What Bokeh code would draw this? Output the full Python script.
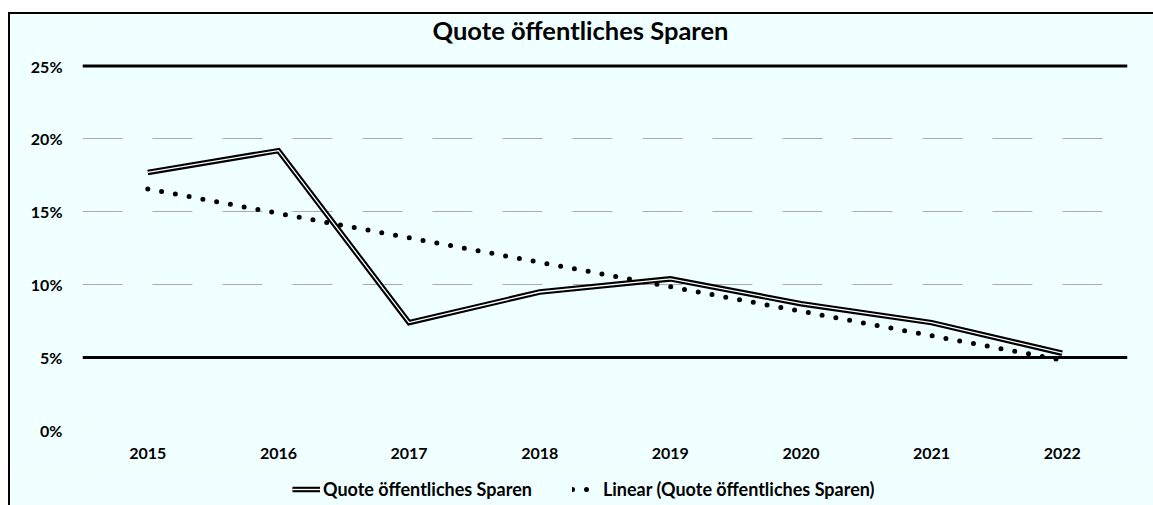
import numpy as np
from bokeh.plotting import figure
from bokeh.layouts import column
from bokeh.models import (Span, Legend, LegendItem, FixedTicker, NumeralTickFormatter,
                          Label, Range1d)
from bokeh.embed import file_html
from bokeh.resources import INLINE

# ---- data ----
years = ["2015", "2016", "2017", "2018", "2019", "2020", "2021", "2022"]
quote = [17.7, 19.2, 7.4, 9.5, 10.4, 8.7, 7.4, 5.3]   # percent
y_ticks = [0, 5, 10, 15, 20, 25]
bold_grid = [5, 25]
title_text = "Quote öffentliches Sparen"
series_name = "Quote öffentliches Sparen"
trend_name = "Linear (Quote öffentliches Sparen)"

# linear trend (least squares, as in the spreadsheet trendline)
idx = np.arange(len(years))
slope, icpt = np.polyfit(idx, quote, 1)
trend = list(slope * idx + icpt)

BG = "#F0FFFF"
FONT = "Lato"

# ---- main chart ----
p = figure(x_range=years, y_range=(0, 28.4), width=1143, height=461,
           output_backend="svg", toolbar_location=None,
           background_fill_color=BG, border_fill_color=BG,
           min_border_left=72, min_border_right=26, min_border_top=2,
           min_border_bottom=45)
p.outline_line_color = None

p.add_layout(Label(x=498, y=401, x_units="screen", y_units="screen", text=title_text,
                   text_align="center", text_baseline="middle", text_font=FONT,
                   text_font_size="25.5px", text_font_style="bold", text_color="black"))

# grid
p.xgrid.grid_line_color = None
p.ygrid.ticker = FixedTicker(ticks=y_ticks)
p.ygrid.grid_line_color = "#777777"
p.ygrid.grid_line_alpha = 0.6
p.ygrid.grid_line_dash = "40 30"
for v in bold_grid:
    p.add_layout(Span(location=v, dimension="width", line_color="black", line_width=3))

# axes
p.yaxis.ticker = FixedTicker(ticks=y_ticks)
p.yaxis.formatter = NumeralTickFormatter(format="0")
p.yaxis.major_label_overrides = {t: f"{t}%" for t in y_ticks}
for ax in (p.xaxis, p.yaxis):
    ax.axis_line_color = None
    ax.major_tick_line_color = None
    ax.minor_tick_line_color = None
    ax.major_label_text_font = FONT
    ax.major_label_text_font_size = "16px"
    ax.major_label_text_font_style = "bold"
    ax.major_label_text_color = "black"
p.yaxis.major_label_standoff = 14
p.xaxis.major_label_standoff = 11

# series
trend_style = dict(line_color="black", line_width=5, line_dash="0 14", line_cap="round")
outer_style = dict(line_color="black", line_width=5.5, line_join="miter")
inner_style = dict(line_color="white", line_width=1.3, line_join="miter")
p.line(years, trend, **trend_style)
p.line(years, quote, **outer_style)
p.line(years, quote, **inner_style)

# ---- legend strip (same styles; NaN data so nothing is drawn in the strip) ----
lg = figure(width=1143, height=30, x_range=Range1d(0, 1), y_range=Range1d(0, 1),
            output_backend="svg", toolbar_location=None,
            x_axis_type=None, y_axis_type=None,
            background_fill_color=BG, border_fill_color=BG,
            min_border=0)
lg.outline_line_color = None
lg.grid.visible = False
nan = [float("nan")]
l_outer = lg.line(nan, nan, **outer_style)
l_inner = lg.line(nan, nan, **inner_style)
l_trend = lg.line(nan, nan, **trend_style)
legend = Legend(items=[LegendItem(label=series_name, renderers=[l_outer, l_inner]),
                       LegendItem(label=trend_name, renderers=[l_trend])],
                orientation="horizontal", location=(210, 5),
                background_fill_alpha=0, border_line_color=None,
                padding=0, margin=0, spacing=40, glyph_width=28, label_standoff=3,
                label_text_font=FONT, label_text_font_size="18px",
                label_text_font_style="bold", label_text_color="black")
lg.add_layout(legend, "center")

page = column(p, lg, spacing=0)
page.styles = {"border-left": "2px solid black", "border-top": "2px solid black",
               "margin-top": "12px", "margin-left": "8px"}

open("out.html", "w").write(file_html(page, INLINE))
